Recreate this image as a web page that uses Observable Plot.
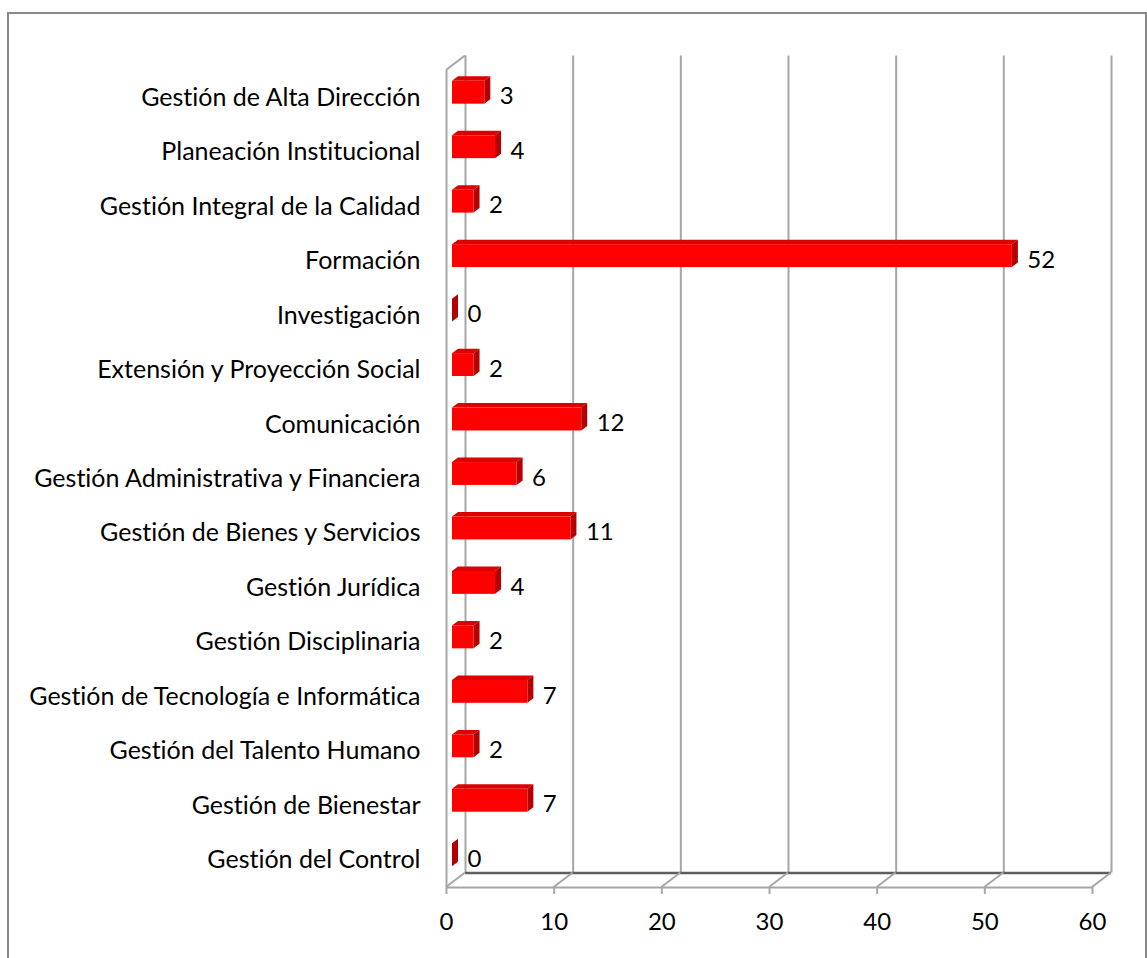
<!DOCTYPE html>
<html><head><meta charset="utf-8">
<script src="https://cdn.jsdelivr.net/npm/d3@7"></script>
<script src="https://cdn.jsdelivr.net/npm/@observablehq/plot@0.6"></script>
<style>
html,body{margin:0;padding:0;background:#fff;overflow:hidden}
#wrap{position:relative;width:1147px;height:958px}
#border{position:absolute;left:7px;top:12px;width:1140px;height:1000px;border:2px solid #888;box-sizing:border-box;pointer-events:none}
svg text{font-variant-ligatures:none;font-feature-settings:"liga" 0}
</style></head><body><div id="wrap"><div id="border"></div></div>
<script>
const categories = [
  "Gestión de Alta Dirección",
  "Planeación Institucional",
  "Gestión Integral de la Calidad",
  "Formación",
  "Investigación",
  "Extensión y Proyección Social",
  "Comunicación",
  "Gestión Administrativa y Financiera",
  "Gestión de Bienes y Servicios",
  "Gestión Jurídica",
  "Gestión Disciplinaria",
  "Gestión de Tecnología e Informática",
  "Gestión del Talento Humano",
  "Gestión de Bienestar",
  "Gestión del Control"
];
const values = [3, 4, 2, 52, 0, 2, 12, 6, 11, 4, 2, 7, 2, 7, 0];
const xTicks = [0, 10, 20, 30, 40, 50, 60];

const n = categories.length;
const rows = categories.map((c, i) => ({category: c, value: values[i], pos: n - i - 0.5}));
const posToName = new Map(rows.map(d => [d.pos, d.category]));

// 3D styling constants (pixels)
const WALL_DX = 19, WALL_DY = -14.5;     // depth of the floor/back wall
const BAR_DX = 6, BAR_DY = -5;           // front face offset of the bars
const DEPTH_DX = 6, DEPTH_DY = -4.5;     // bar depth
const BAR_H = 0.42;                      // bar thickness in band units
const GRID = "#a6a6a6";
const FS = 24;

function floorLines(index, {x, y}) {
  const g = d3.create("svg:g").attr("fill", "none").attr("stroke", GRID).attr("stroke-width", 2);
  const y0 = y(0), yTop = y(n);
  xTicks.forEach(t => {
    g.append("line").attr("x1", x(t)).attr("y1", y0).attr("x2", x(t) + WALL_DX).attr("y2", y0 + WALL_DY);
  });
  g.append("line").attr("x1", x(0)).attr("y1", yTop).attr("x2", x(0) + WALL_DX).attr("y2", yTop + WALL_DY);
  return g.node();
}

function barFaces(index, {x, y}) {
  const g = d3.create("svg:g");
  rows.forEach(d => {
    const x0 = x(0) + BAR_DX, x1 = x(d.value) + BAR_DX;
    const yt = y(d.pos + BAR_H / 2) + BAR_DY, yb = y(d.pos - BAR_H / 2) + BAR_DY;
    g.append("path")
      .attr("d", `M${x0},${yt}L${x1},${yt}L${x1 + DEPTH_DX},${yt + DEPTH_DY}L${x0 + DEPTH_DX},${yt + DEPTH_DY}Z`)
      .attr("fill", "#dd0000");
    g.append("path")
      .attr("d", `M${x1},${yt}L${x1 + DEPTH_DX},${yt + DEPTH_DY}L${x1 + DEPTH_DX},${yb + DEPTH_DY}L${x1},${yb}Z`)
      .attr("fill", "#b30000");
  });
  return g.node();
}

const chart = Plot.plot({
  width: 1147,
  height: 958,
  marginLeft: 446,
  marginRight: 55,
  marginTop: 70,
  marginBottom: 71,
  style: {fontFamily: "Lato, 'Open Sans', sans-serif", fontSize: FS + "px", color: "#000", background: "transparent"},
  x: {domain: [0, 60]},
  y: {domain: [0, n]},
  marks: [
    Plot.ruleX(xTicks, {y1: 0, y2: n, dx: WALL_DX, dy: WALL_DY, stroke: GRID, strokeWidth: 2}),
    Plot.ruleY([0], {x1: 0, x2: 60, dx: WALL_DX, dy: WALL_DY, stroke: "#5e5e5e", strokeWidth: 2.5}),
    floorLines,
    Plot.ruleX([0], {y1: 0, y2: n, stroke: GRID, strokeWidth: 2}),
    Plot.ruleY([0], {x1: 0, x2: 60, stroke: GRID, strokeWidth: 2}),
    barFaces,
    Plot.rect(rows, {x1: 0, x2: "value", y1: d => d.pos - BAR_H / 2, y2: d => d.pos + BAR_H / 2, dx: BAR_DX, dy: BAR_DY, fill: "#ff0000"}),
    Plot.text(rows, {x: "value", y: "pos", text: d => String(d.value), textAnchor: "start", dx: 21, dy: -1, fontSize: FS, fill: "#000"}),
    Plot.axisX(xTicks, {tickSize: 7, tickPadding: 18, fontSize: FS, stroke: GRID, strokeWidth: 2, tickFormat: d => String(d), label: null}),
    Plot.axisY(rows.map(d => d.pos), {tickSize: 0, tickPadding: 26, fontSize: 25, tickFormat: p => posToName.get(p), label: null})
  ]
});
document.getElementById("wrap").appendChild(chart);
</script>
</body></html>
